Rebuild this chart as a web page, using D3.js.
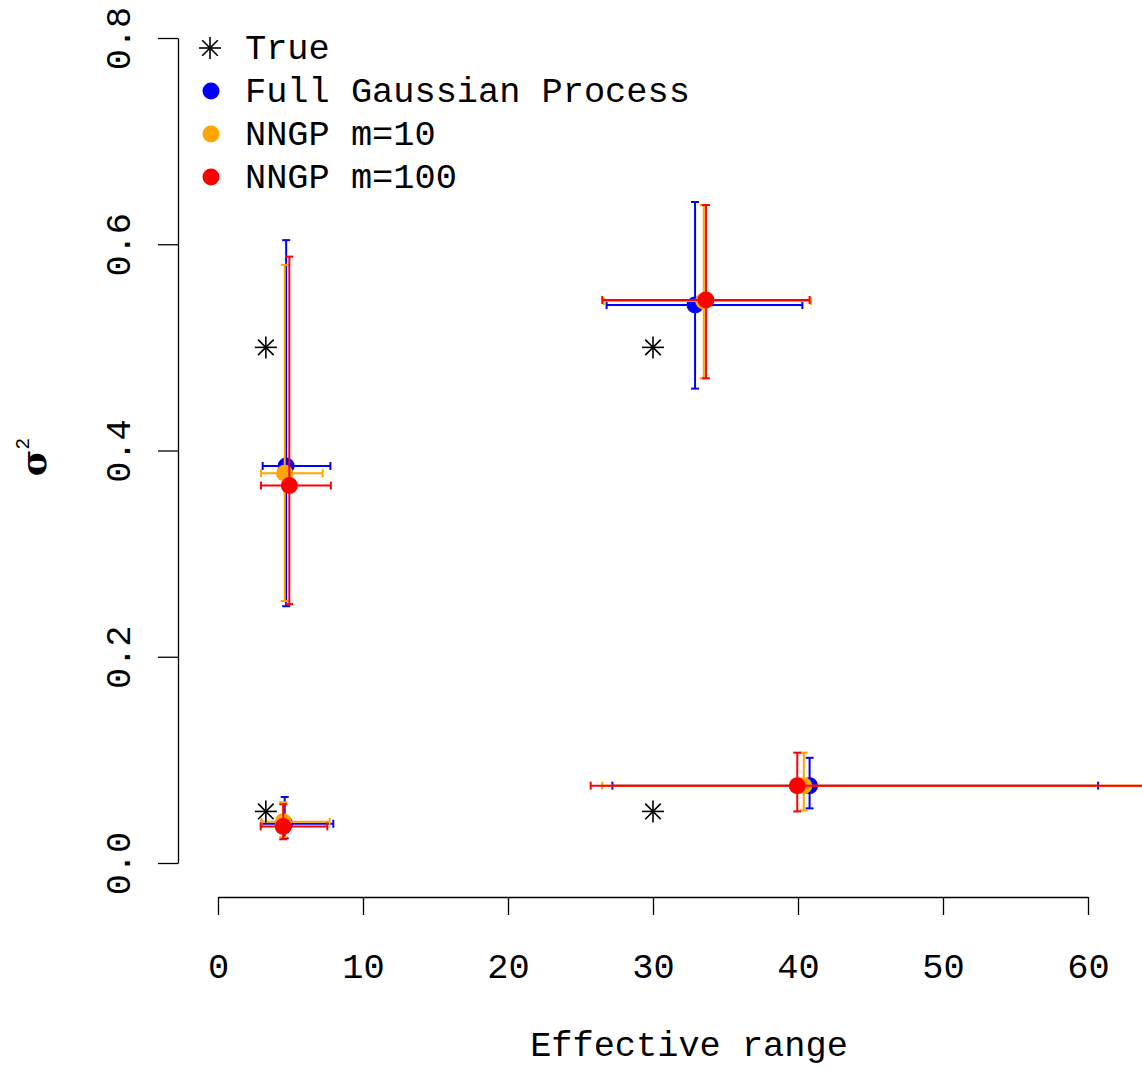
<!DOCTYPE html>
<html>
<head>
<meta charset="utf-8">
<script src="https://cdn.jsdelivr.net/npm/d3@7"></script>
<style>
  html, body { margin: 0; padding: 0; background: #fff; }
  svg { display: block; }
  text { font-family: "Liberation Mono", "Courier New", monospace; }
</style>
</head>
<body>
<svg id="chart" width="1142" height="1069"></svg>
<script>
// ---- data ----
const xTicks = [0, 10, 20, 30, 40, 50, 60];
const yTicks = [0.0, 0.2, 0.4, 0.6, 0.8];
const seriesNames = ["Full Gaussian Process", "NNGP m=10", "NNGP m=100"];
const seriesColors = ["#0000FF", "#FFA500", "#FF0000"];

// true values: [effective range, sigma^2]
const trueX = [3.3, 30, 3.3, 30];
const trueY = [0.5, 0.5, 0.05, 0.05];

// Full Gaussian Process
const fullX    = [4.7, 32.9, 4.6, 40.8];
const fullY    = [0.385, 0.541, 0.038, 0.075];
const fullXlo  = [3.08, 26.8, 3.0, 27.2];
const fullXhi  = [7.75, 40.3, 7.95, 60.7];
const fullYlo  = [0.249, 0.460, 0.024, 0.053];
const fullYhi  = [0.604, 0.641, 0.064, 0.102];

// NNGP m=10
const m10X    = [4.6, 33.5, 4.5, 40.4];
const m10Y    = [0.378, 0.545, 0.040, 0.075];
const m10Xlo  = [2.97, 26.6, 3.0, 26.5];
const m10Xhi  = [7.22, 40.9, 7.7, 66];
const m10Ylo  = [0.254, 0.470, 0.025, 0.051];
const m10Yhi  = [0.580, 0.638, 0.059, 0.107];

// NNGP m=100
const m100X   = [4.92, 33.65, 4.5, 39.95];
const m100Y   = [0.366, 0.546, 0.0355, 0.075];
const m100Xlo = [2.96, 26.5, 2.94, 25.7];
const m100Xhi = [7.78, 40.8, 7.54, 65];
const m100Ylo = [0.251, 0.470, 0.023, 0.050];
const m100Yhi = [0.588, 0.638, 0.057, 0.107];

const series = [
  {x: fullX, y: fullY, xlo: fullXlo, xhi: fullXhi, ylo: fullYlo, yhi: fullYhi},
  {x: m10X, y: m10Y, xlo: m10Xlo, xhi: m10Xhi, ylo: m10Ylo, yhi: m10Yhi},
  {x: m100X, y: m100Y, xlo: m100Xlo, xhi: m100Xhi, ylo: m100Ylo, yhi: m100Yhi}
];

// ---- scales ----
const svg = d3.select("#chart");
const x = d3.scaleLinear().domain([0, 60]).range([218, 1088]);
const y = d3.scaleLinear().domain([0, 0.8]).range([863, 38]);

const FS = 35.3;

// ---- axes ----
const xAxis = svg.append("g")
  .attr("transform", "translate(0,897)")
  .call(d3.axisBottom(x).tickValues(xTicks).tickFormat(d3.format("d")).tickSize(18).tickSizeOuter(0));
xAxis.select(".domain").attr("stroke", "#000").attr("stroke-width", 1.3);
xAxis.selectAll(".tick line").attr("stroke", "#000").attr("stroke-width", 1.3);
xAxis.selectAll(".tick text")
  .attr("y", 81).attr("dy", 0)
  .attr("fill", "#000")
  .style("font-family", "'Liberation Mono', monospace")
  .style("font-size", FS + "px");

const yAxis = svg.append("g")
  .attr("transform", "translate(178,0)")
  .call(d3.axisLeft(y).tickValues(yTicks).tickFormat(d3.format(".1f")).tickSize(20).tickSizeOuter(0));
yAxis.select(".domain").attr("stroke", "#000").attr("stroke-width", 1.3);
yAxis.selectAll(".tick line").attr("stroke", "#000").attr("stroke-width", 1.3);
yAxis.selectAll(".tick text")
  .attr("transform", "rotate(-90)")
  .attr("x", 0).attr("y", -48).attr("dy", 0)
  .attr("text-anchor", "middle")
  .attr("fill", "#000")
  .style("font-family", "'Liberation Mono', monospace")
  .style("font-size", FS + "px");

// axis titles
svg.append("text")
  .attr("x", 689).attr("y", 1056)
  .attr("text-anchor", "middle")
  .style("font-size", FS + "px")
  .text("Effective range");

const yl = svg.append("text")
  .attr("transform", "translate(46,457) rotate(-90)")
  .attr("text-anchor", "middle")
  .style("font-family", "'DejaVu Serif', serif");
yl.append("tspan").style("font-size", "36px").style("font-weight", "bold").text("σ");
yl.append("tspan").style("font-size", "20px").attr("dy", -17)
  .style("font-family", "'Liberation Mono', monospace").text("2");

// ---- marks ----
const cap = 4;
const plot = svg.append("g");

function asterisk(g, cx, cy, r) {
  const a = r * Math.SQRT1_2;
  const segs = [[-r,0,r,0],[0,-r,0,r],[-a,-a,a,a],[-a,a,a,-a]];
  segs.forEach(s => g.append("line")
    .attr("x1", cx + s[0]).attr("y1", cy + s[1])
    .attr("x2", cx + s[2]).attr("y2", cy + s[3])
    .attr("stroke", "#000").attr("stroke-width", 1.6));
}

series.forEach((s, si) => {
  const col = seriesColors[si];
  const g = plot.append("g");
  s.x.forEach((xv, i) => {
    // vertical error bar
    g.append("line").attr("x1", x(xv)).attr("x2", x(xv))
      .attr("y1", y(s.ylo[i])).attr("y2", y(s.yhi[i]))
      .attr("stroke", col).attr("stroke-width", 2);
    [s.ylo[i], s.yhi[i]].forEach(v => g.append("line")
      .attr("x1", x(xv) - cap).attr("x2", x(xv) + cap)
      .attr("y1", y(v)).attr("y2", y(v))
      .attr("stroke", col).attr("stroke-width", 2));
    // horizontal error bar
    g.append("line").attr("x1", x(s.xlo[i])).attr("x2", x(s.xhi[i]))
      .attr("y1", y(s.y[i])).attr("y2", y(s.y[i]))
      .attr("stroke", col).attr("stroke-width", 2);
    [s.xlo[i], s.xhi[i]].forEach(v => g.append("line")
      .attr("x1", x(v)).attr("x2", x(v))
      .attr("y1", y(s.y[i]) - cap).attr("y2", y(s.y[i]) + cap)
      .attr("stroke", col).attr("stroke-width", 2));
    // point
    g.append("circle").attr("cx", x(xv)).attr("cy", y(s.y[i]))
      .attr("r", 8.5).attr("fill", col);
  });
});

// true values
trueX.forEach((xv, i) => asterisk(plot, x(xv), y(trueY[i]), 11));

// ---- legend ----
const legendRows = [48, 91, 134, 177];
asterisk(svg, 210, legendRows[0], 11);
svg.append("text").attr("x", 245).attr("y", legendRows[0] + 11)
  .style("font-size", FS + "px").text("True");
seriesNames.forEach((n, i) => {
  svg.append("circle").attr("cx", 211).attr("cy", legendRows[i + 1])
    .attr("r", 8.5).attr("fill", seriesColors[i]);
  svg.append("text").attr("x", 245).attr("y", legendRows[i + 1] + 11)
    .style("font-size", FS + "px").text(n);
});
</script>
</body>
</html>
